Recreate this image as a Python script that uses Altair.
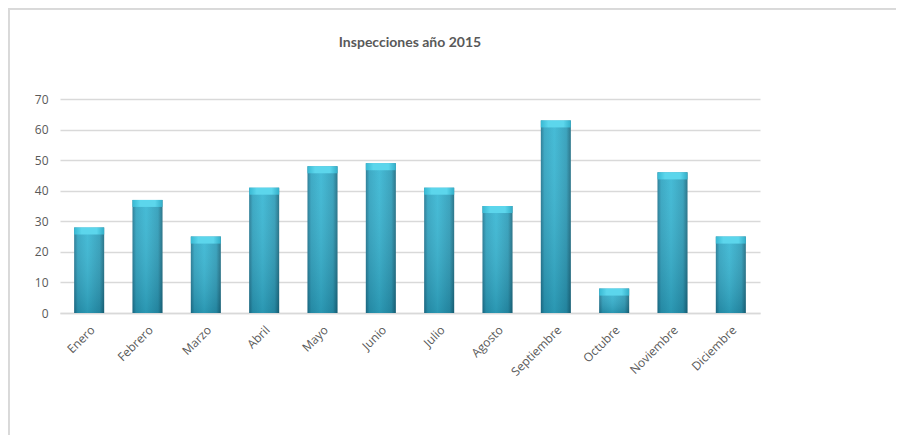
import altair as alt
import pandas as pd

meses = ["Enero", "Febrero", "Marzo", "Abril", "Mayo", "Junio", "Julio",
         "Agosto", "Septiembre", "Octubre", "Noviembre", "Diciembre"]
inspecciones = [28, 37, 25, 41, 48, 49, 41, 35, 63, 8, 46, 25]
y_ticks = [0, 10, 20, 30, 40, 50, 60, 70]

df = pd.DataFrame({"mes": meses, "valor": inspecciones})

W, H = 700, 214
PL, PT, PR, PB = 52, 91, 136, 122

x_enc = alt.X("mes:N", sort=meses, title=None,
              scale=alt.Scale(paddingInner=0, paddingOuter=0),
              axis=alt.Axis(labelAngle=-45, labelFont="Open Sans", labelFontSize=12,
                            labelColor="#595959", ticks=False, domain=True,
                            domainColor="#d9d9d9", domainWidth=1.5, labelPadding=11,
                            grid=False))
y_scale = alt.Scale(domain=[0, 70], nice=False)
y_axis = alt.Axis(values=y_ticks, labelFont="Open Sans", labelFontSize=12,
                  labelColor="#595959", ticks=False, domain=False,
                  gridColor="#d9d9d9", gridWidth=1.5, labelPadding=12)
y_enc = alt.Y("valor:Q", title=None, scale=y_scale, axis=y_axis)

body_grad = {"gradient": "linear", "x1": 0, "x2": 1, "y1": 0, "y2": 0,
             "stops": [{"offset": 0, "color": "#1f7590"},
                       {"offset": 0.12, "color": "#2ea3c0"},
                       {"offset": 0.45, "color": "#36b6d3"},
                       {"offset": 0.85, "color": "#2c9cb8"},
                       {"offset": 1, "color": "#1b6a80"}]}
shade_grad = {"gradient": "linear", "x1": 0, "x2": 0, "y1": 0, "y2": 1,
              "stops": [{"offset": 0, "color": "rgba(255,255,255,0.08)"},
                        {"offset": 1, "color": "rgba(0,40,60,0.22)"}]}
top_grad = {"gradient": "linear", "x1": 0, "x2": 1, "y1": 0, "y2": 0,
            "stops": [{"offset": 0, "color": "#38b8d2"},
                      {"offset": 0.25, "color": "#5cd6ec"},
                      {"offset": 0.75, "color": "#5cd6ec"},
                      {"offset": 1, "color": "#33aec8"}]}

base = alt.Chart(df)

bars = base.mark_bar(size=30, color=body_grad).encode(x=x_enc, y=y_enc)
shade = base.mark_bar(size=30, color=shade_grad).encode(x=x_enc, y=y_enc)
bevel = base.transform_calculate(b="datum.valor - 2.3").mark_bar(size=30, color=top_grad).encode(
    x=x_enc, y=y_enc, y2="b:Q")

border_top = alt.Chart(df).mark_rule(color="#d9d9d9", strokeWidth=1.5).encode(
    x=alt.value(-PL), x2=alt.value(W + PR), y=alt.value(-PT + 0.75))
border_left = alt.Chart(df).mark_rule(color="#d9d9d9", strokeWidth=1.5).encode(
    x=alt.value(-PL + 0.75), y=alt.value(-PT), y2=alt.value(H + PB))

chart = alt.layer(bars, shade, bevel, border_top, border_left).properties(
    width=W, height=H,
    title=alt.TitleParams("Inspecciones año 2015",
                          font="Lato", fontSize=14,
                          fontWeight="bold", color="#595959", anchor="middle",
                          frame="group", offset=0, dy=43),
    autosize=alt.AutoSizeParams(type="none"),
    padding={"left": PL, "top": PT, "right": PR, "bottom": PB},
).configure(background="white").configure_view(strokeWidth=0, stroke="transparent")

chart.save("out.html", embed_options={"renderer": "svg", "actions": False})
